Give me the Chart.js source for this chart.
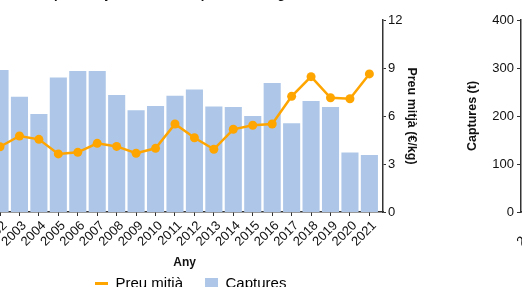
<!DOCTYPE html>
<html>
<head>
<meta charset="utf-8">
<script src="https://cdn.jsdelivr.net/npm/chart.js@4"></script>
<style>
    html, body { margin: 0; padding: 0; background: #fff; }
    body { width: 522px; height: 287px; position: relative; overflow: hidden; }
    canvas { position: absolute; }
    #main-chart { left: -130px; top: -13px; }
    #next-chart { left: 461px; top: -13px; }
</style>
</head>
<body>
<canvas id="main-chart" width="553" height="314"></canvas>
<canvas id="next-chart" width="497" height="314"></canvas>
<script>
// Preu mitjà i captures per any

const years = [2002, 2003, 2004, 2005, 2006, 2007, 2008, 2009, 2010, 2011,
               2012, 2013, 2014, 2015, 2016, 2017, 2018, 2019, 2020, 2021];
const captures = [296, 240, 204, 280, 294, 294, 244, 212, 221, 242,
                  255, 220, 219, 200, 269, 185, 231, 219, 124, 119];
const avgPrice = [4.08, 4.75, 4.54, 3.63, 3.73, 4.29, 4.10, 3.67, 3.98, 5.50,
                  4.64, 3.92, 5.17, 5.42, 5.50, 7.23, 8.46, 7.14, 7.08, 8.63];
const priceTicks = [0, 3, 6, 9, 12];
const captureTicks = [0, 100, 200, 300, 400];

const colors = {
    bar: "#aec7e8",
    line: "#ffa500",
    axis: "#333333",
    text: "#111111",
};

Chart.defaults.font.family = "'Liberation Sans', Arial, sans-serif";
Chart.defaults.color = colors.text;

// legend sits a bit right of the plot centre in the original
const legendShift = {
    id: "legendShift",
    afterLayout(chart) {
        if (!chart.legend) return;
        chart.legend.left += 6;
        chart.legend.right += 6;
    },
};

function yearAxis() {
    return {
        type: "linear",
        offset: false,
        min: years[0] - 0.7,
        max: years[years.length - 1] + 0.7,
        afterBuildTicks: s => { s.ticks = years.map(v => ({ value: v })); },
        afterFit: s => { s.height = 42; },
        grid: { display: true, offset: false, drawOnChartArea: false, drawTicks: true, tickLength: 4, color: colors.axis },
        border: { display: true, color: colors.axis, width: 1.5 },
        ticks: {
            autoSkip: false, minRotation: 45, maxRotation: 45, padding: 2, labelOffset: 5,
            color: colors.text, font: { size: 13 }, callback: v => String(v),
        },
        title: {
            display: true, text: "Any", color: colors.text,
            font: { size: 12, weight: "bold" }, padding: { top: 0, bottom: -16 },
        },
    };
}

new Chart(document.getElementById("main-chart"), {
    data: {
        datasets: [{
            type: "line",
            label: "Preu mitjà",
            data: years.map((y, i) => ({ x: y, y: avgPrice[i] })),
            yAxisID: "y1",
            borderColor: colors.line,
            backgroundColor: colors.line,
            borderWidth: 2.5,
            pointRadius: 4.5,
            pointBorderWidth: 0,
            tension: 0,
            order: 0,
        }, {
            type: "bar",
            label: "Captures",
            data: years.map((y, i) => ({ x: y, y: captures[i] })),
            yAxisID: "y",
            backgroundColor: colors.bar,
            categoryPercentage: 0.88,
            barPercentage: 1,
            order: 1,
        }],
    },
    plugins: [legendShift],
    options: {
        responsive: false,
        animation: false,
        devicePixelRatio: 1,
        layout: { padding: 0 },
        plugins: {
            title: {
                display: true,
                text: "Evolució del preu mitjà anual i les captures de la gamba",
                color: colors.text,
                font: { size: 13, weight: "bold" },
                padding: { top: 0, bottom: 17.4 },
            },
            legend: {
                position: "bottom",
                fullSize: false,
                labels: {
                    usePointStyle: true,
                    pointStyleWidth: 13,
                    boxHeight: 11,
                    padding: 22,
                    color: colors.text,
                    font: { size: 15 },
                    generateLabels: chart => chart.data.datasets.map((ds, i) => ({
                        text: ds.label,
                        datasetIndex: i,
                        fillStyle: ds.backgroundColor,
                        strokeStyle: ds.type === "line" ? ds.borderColor : ds.backgroundColor,
                        lineWidth: ds.type === "line" ? 3 : 0,
                        pointStyle: ds.type === "line" ? "line" : "rect",
                        hidden: false,
                    })),
                },
            },
            tooltip: { enabled: false },
        },
        scales: {
            x: yearAxis(),
            y: {
                position: "left",
                min: 0,
                max: 400,
                afterBuildTicks: s => { s.ticks = captureTicks.map(v => ({ value: v })); },
                afterFit: s => { s.width = 116.4; },
                grid: { display: false },
                border: { display: false },
                ticks: { display: false },
            },
            y1: {
                position: "right",
                min: 0,
                max: 12,
                afterBuildTicks: s => { s.ticks = priceTicks.map(v => ({ value: v })); },
                afterFit: s => { s.width = 40; },
                grid: { display: true, drawOnChartArea: false, tickLength: 3, color: colors.axis },
                border: { display: true, color: colors.axis, width: 1.5 },
                ticks: { padding: 2, color: colors.text, font: { size: 13 } },
                title: {
                    display: true, text: "Preu mitjà (€/kg)", color: colors.text,
                    font: { size: 12.5, weight: "bold" }, padding: { top: 4, bottom: 4 },
                },
            },
        },
    },
});

// next panel, only its left axis falls inside the window
new Chart(document.getElementById("next-chart"), {
    type: "bar",
    data: { datasets: [] },
    options: {
        responsive: false,
        animation: false,
        devicePixelRatio: 1,
        layout: { padding: { top: 33, bottom: 47, right: 40 } },
        plugins: { legend: { display: false }, tooltip: { enabled: false } },
        scales: {
            x: yearAxis(),
            y: {
                position: "left",
                min: 0,
                max: 400,
                afterBuildTicks: s => { s.ticks = captureTicks.map(v => ({ value: v })); },
                afterFit: s => { s.width = 60; },
                grid: { display: true, drawOnChartArea: false, tickLength: 4, color: colors.axis },
                border: { display: true, color: colors.axis, width: 1.5 },
                ticks: { padding: 3, color: colors.text, font: { size: 13 } },
                title: {
                    display: true, text: "Captures (t)", color: colors.text,
                    font: { size: 12.5, weight: "bold" }, padding: { top: 4, bottom: 4 },
                },
            },
        },
    },
});
</script>
</body>
</html>
